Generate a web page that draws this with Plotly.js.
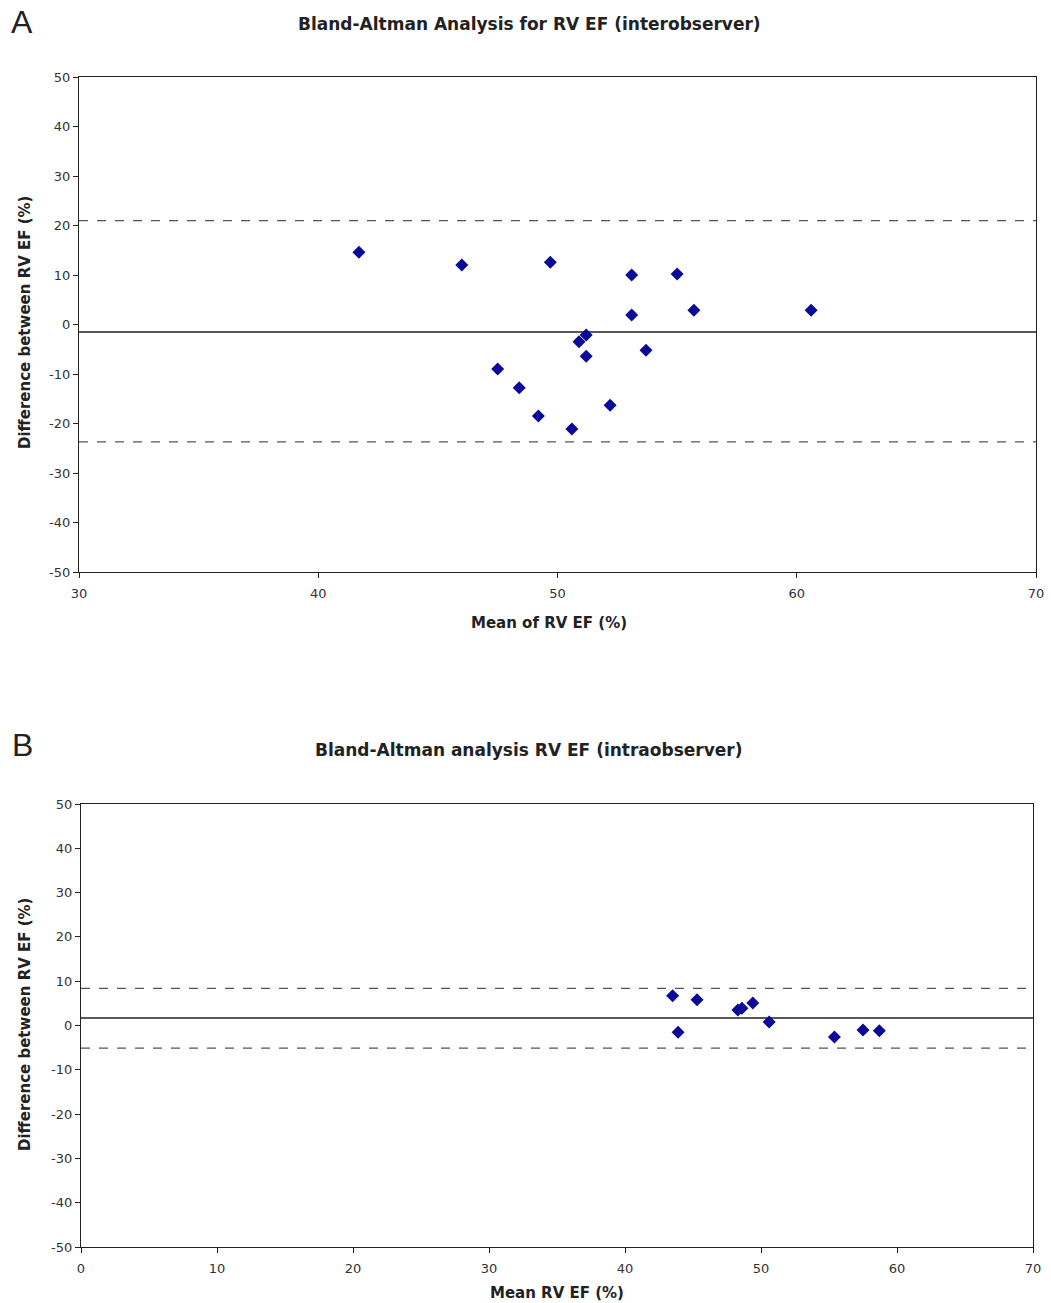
<!DOCTYPE html>
<html><head><meta charset="utf-8">
<script src="https://cdn.plot.ly/plotly-3.0.1.min.js"></script>
<style>body{margin:0;background:#fff}#c{width:1051px;height:1303px}</style>
</head><body><div id="c"></div>
<script>
// Panel A: interobserver
const interMean = [41.7, 46.0, 49.7, 53.1, 55.0, 53.1, 55.7, 60.6, 51.2, 50.9, 51.2, 53.7, 47.5, 48.4, 49.2, 50.6, 52.2];
const interDiff = [14.6, 12.0, 12.6, 10.0, 10.2, 1.9, 2.9, 2.9, -2.1, -3.5, -6.4, -5.2, -9.0, -12.8, -18.5, -21.1, -16.3];
const interBias = -1.5;
const interUpper = 21.0;
const interLower = -23.7;
const interXRange = [30, 70];
const interXTicks = [30, 40, 50, 60, 70];

// Panel B: intraobserver
const intraMean = [43.5, 45.3, 48.3, 48.6, 49.4, 50.6, 43.9, 55.4, 57.5, 58.7];
const intraDiff = [6.7, 5.8, 3.5, 3.9, 5.1, 0.8, -1.5, -2.6, -1.0, -1.2];
const intraBias = 1.7;
const intraUpper = 8.4;
const intraLower = -5.1;
const intraXRange = [0, 70];
const intraXTicks = [0, 10, 20, 30, 40, 50, 60, 70];

const yTicks = [-50, -40, -30, -20, -10, 0, 10, 20, 30, 40, 50];
const yTickText = ['-50', '-40', '-30', '-20', '-10', '0', '10', '20', '30', '40', '50'];

const font = 'DejaVu Sans, Verdana, sans-serif';
const mk = {symbol: 'diamond', size: 10, color: '#0a0a96'};

function lineTrace(xr, yv, dash, color, xa, ya) {
  return {x: xr, y: [yv, yv], mode: 'lines', xaxis: xa, yaxis: ya,
    line: {color: color, width: dash ? 1.3 : 1.6, dash: dash ? 'dash' : 'solid'},
    hoverinfo: 'skip', showlegend: false};
}

const traces = [
  lineTrace(interXRange, interUpper, true, '#555', 'x', 'y'),
  lineTrace(interXRange, interLower, true, '#555', 'x', 'y'),
  lineTrace(interXRange, interBias, false, '#222', 'x', 'y'),
  {x: interMean, y: interDiff, mode: 'markers', marker: mk, xaxis: 'x', yaxis: 'y', showlegend: false},
  lineTrace(intraXRange, intraUpper, true, '#555', 'x2', 'y2'),
  lineTrace(intraXRange, intraLower, true, '#555', 'x2', 'y2'),
  lineTrace(intraXRange, intraBias, false, '#222', 'x2', 'y2'),
  {x: intraMean, y: intraDiff, mode: 'markers', marker: mk, xaxis: 'x2', yaxis: 'y2', showlegend: false}
];

function xAx(range, ticks, dom, anchor) {
  return {range: range, domain: dom, anchor: anchor, tickvals: ticks, ticktext: ticks.map(String),
    showgrid: false, zeroline: false, showline: true, linecolor: '#222', linewidth: 1.2,
    mirror: true, ticks: 'outside', ticklen: 5, tickcolor: '#222', ticklabelstandoff: 4,
    tickfont: {family: font, size: 13, color: '#333'}, fixedrange: true};
}
function yAx(dom, anchor) {
  return {range: [-50, 50], domain: dom, anchor: anchor, tickvals: yTicks, ticktext: yTickText,
    showgrid: false, zeroline: false, showline: true, linecolor: '#222', linewidth: 1.2,
    mirror: true, ticks: 'outside', ticklen: 5, tickcolor: '#222',
    tickfont: {family: font, size: 13, color: '#333'}, fixedrange: true};
}

const W = 1051, H = 1303;
const px = v => v / W, py = v => 1 - v / H;

const ann = (text, x, y, size, extra) => Object.assign({text: text, x: px(x), y: py(y), xref: 'paper', yref: 'paper',
  showarrow: false, font: {family: font, size: size, color: '#222'}, xanchor: 'center', yanchor: 'middle'}, extra || {});
const letterFont = {family: 'Liberation Sans Narrow, Liberation Sans, sans-serif', size: 32, color: '#222'};

const layout = {
  width: W, height: H, margin: {l: 0, r: 0, t: 0, b: 0},
  paper_bgcolor: '#fff', plot_bgcolor: '#fff', showlegend: false,
  xaxis: xAx(interXRange, interXTicks, [px(79), px(1036)], 'y'),
  yaxis: yAx([py(572), py(77)], 'x'),
  xaxis2: xAx(intraXRange, intraXTicks, [px(81), px(1033)], 'y2'),
  yaxis2: yAx([py(1247), py(804)], 'x2'),
  annotations: [
    ann('A', 22, 22, 32, {font: letterFont}),
    ann('B', 22, 745, 32, {font: letterFont}),
    ann('<b>Bland-Altman Analysis for RV EF (interobserver)</b>', 529, 24, 17),
    ann('<b>Bland-Altman analysis RV EF (intraobserver)</b>', 528, 750, 17),
    ann('<b>Mean of RV EF (%)</b>', 549, 623, 15),
    ann('<b>Mean RV EF (%)</b>', 557, 1293, 15),
    ann('<b>Difference between RV EF (%)</b>', 25, 323, 15, {textangle: -90}),
    ann('<b>Difference between RV EF (%)</b>', 25, 1025, 15, {textangle: -90})
  ]
};

Plotly.newPlot('c', traces, layout, {displayModeBar: false, staticPlot: true});
</script>
</body></html>
